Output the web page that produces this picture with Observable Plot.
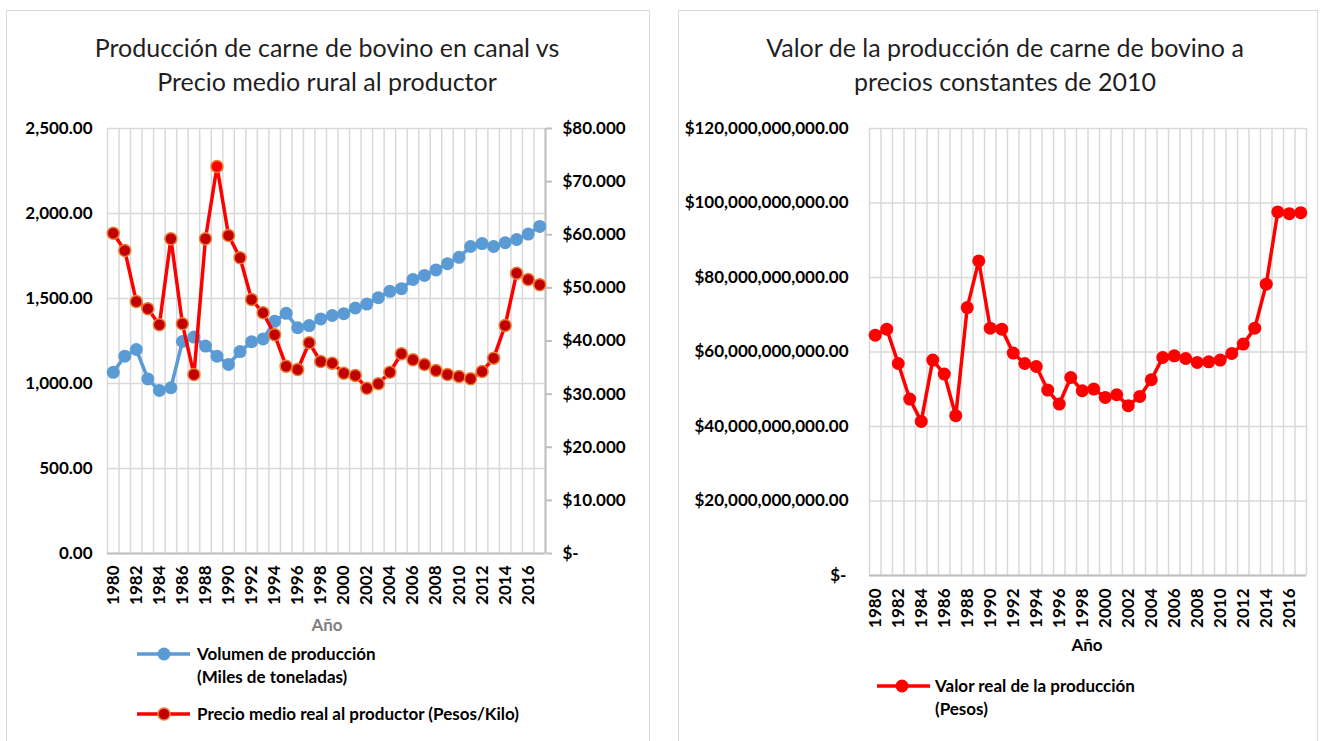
<!DOCTYPE html>
<html>
<head>
<meta charset="utf-8">
<script src="https://cdn.jsdelivr.net/npm/d3@7"></script>
<script src="https://cdn.jsdelivr.net/npm/@observablehq/plot@0.6"></script>
<style>
  html, body { margin: 0; padding: 0; background: #fff; }
  #root { position: relative; width: 1320px; height: 741px; overflow: hidden; background: #fff; font-family: Lato, "Open Sans", sans-serif; }
  .panel { position: absolute; border: 1.5px solid #d9d9d9; box-sizing: border-box; }
  .title { position: absolute; text-align: center; font-size: 25px; line-height: 34px; color: #1f1f1f; font-weight: normal; }
  .abs { position: absolute; }
  .lbl { position: absolute; font-weight: bold; font-size: 17px; line-height: 23px; color: #000; white-space: nowrap; }
  .chart { position: absolute; }
</style>
</head>
<body>
<div id="root">
  <div class="panel" style="left:6px; top:10px; width:644px; height:760px;"></div>
  <div class="panel" style="left:678px; top:10px; width:640px; height:760px;"></div>

  <div class="title" style="left:0px; top:30px; width:654px;">Producción de carne de bovino en canal vs<br>Precio medio rural al productor</div>
  <div class="title" style="left:680px; top:30px; width:650px;">Valor de la producción de carne de bovino a<br>precios constantes de 2010</div>

  <div id="left" class="chart" style="left:0px; top:100px;"></div>
  <div id="right" class="chart" style="left:680px; top:100px;"></div>

  <div class="lbl" style="left:297px; top:613px; width:60px; text-align:center; color:#7f7f7f;">Año</div>
  <div class="lbl" style="left:1057px; top:633px; width:60px; text-align:center;">Año</div>

  <!-- left legend -->
  <svg class="abs" style="left:135px; top:644px;" width="60" height="20">
    <line x1="2" y1="10" x2="55" y2="10" stroke="#5b9bd5" stroke-width="3.5"></line>
    <circle cx="29" cy="10" r="6.5" fill="#5b9bd5"></circle>
  </svg>
  <div class="lbl" style="left:197px; top:642px;">Volumen de producción<br>(Miles de toneladas)</div>
  <svg class="abs" style="left:135px; top:704px;" width="60" height="20">
    <line x1="2" y1="10" x2="55" y2="10" stroke="#ff0000" stroke-width="3.5"></line>
    <circle cx="29" cy="10" r="6" fill="#c00000" stroke="#ed7d31" stroke-width="1.5"></circle>
  </svg>
  <div class="lbl" style="left:197px; top:702px;">Precio medio real al productor (Pesos/Kilo)</div>

  <!-- right legend -->
  <svg class="abs" style="left:875px; top:676px;" width="60" height="20">
    <line x1="2" y1="10" x2="55" y2="10" stroke="#ff0000" stroke-width="3.5"></line>
    <circle cx="27" cy="10" r="6.5" fill="#ff0000"></circle>
  </svg>
  <div class="lbl" style="left:935px; top:674px;">Valor real de la producción<br>(Pesos)</div>
</div>

<script>
// ---------------- DATA ----------------
const years = [1980,1981,1982,1983,1984,1985,1986,1987,1988,1989,
               1990,1991,1992,1993,1994,1995,1996,1997,1998,1999,
               2000,2001,2002,2003,2004,2005,2006,2007,2008,2009,
               2010,2011,2012,2013,2014,2015,2016,2017];

// Volumen de producción (miles de toneladas)
const volumen = [1066,1161,1200,1027,959,975,1247,1273,1220,1161,
                 1112,1188,1245,1262,1366,1413,1328,1341,1380,1400,
                 1411,1444,1467,1505,1542,1558,1612,1636,1668,1705,
                 1742,1806,1823,1806,1828,1847,1879,1924];

// Precio medio real al productor (pesos/kilo)
const precio = [60.29,57.04,47.44,46.06,43.05,59.24,43.24,33.69,59.24,72.85,
                59.86,55.66,47.81,45.31,41.17,35.26,34.64,39.66,36.14,35.83,
                33.94,33.51,31.12,31.94,34.13,37.59,36.46,35.58,34.45,33.69,
                33.32,32.89,34.26,36.77,42.92,52.77,51.58,50.58];

// Valor real de la producción (pesos)
const valor = [64.53e9,66.14e9,56.92e9,47.37e9,41.37e9,57.83e9,54.07e9,42.90e9,71.93e9,84.45e9,
               66.40e9,66.14e9,59.70e9,56.92e9,56.10e9,49.78e9,46.03e9,53.16e9,49.60e9,50.05e9,
               47.80e9,48.52e9,45.58e9,48.07e9,52.55e9,58.53e9,58.98e9,58.26e9,57.19e9,57.37e9,
               57.83e9,59.60e9,62.12e9,66.40e9,78.20e9,97.60e9,97.13e9,97.40e9];

// Tick labels
const tickYears = [1980,1982,1984,1986,1988,1990,1992,1994,1996,1998,
                   2000,2002,2004,2006,2008,2010,2012,2014,2016];
const volTicks = [0,500,1000,1500,2000,2500];
const precioTicks = [0,10,20,30,40,50,60,70,80];
const valorTicks = [0,20e9,40e9,60e9,80e9,100e9,120e9];

// ---------------- BUILD ----------------
const rows = years.map((year, i) => ({year, volumen: volumen[i], precio: precio[i], valor: valor[i]}));
const xMin = years[0] - 0.5, xMax = years[years.length - 1] + 0.5;
const bounds = years.map(y => y - 0.5).concat([xMax]);
const k = volTicks[volTicks.length - 1] / precioTicks[precioTicks.length - 1];
const peakYear = years[precio.indexOf(d3.max(precio))];

const baseStyle = {
  fontFamily: "Lato, 'Open Sans', sans-serif",
  fontSize: "17px",
  fontWeight: "bold",
  color: "#000",
  background: "transparent",
  overflow: "visible"
};
const gridColor = "#d9d9d9";
const axisColor = "#bfbfbf";

const left = Plot.plot({
  width: 660, height: 540,
  marginLeft: 107, marginRight: 115, marginTop: 28, marginBottom: 87,
  style: baseStyle,
  x: {type: "linear", domain: [xMin, xMax]},
  y: {domain: [0, volTicks[volTicks.length - 1]]},
  marks: [
    Plot.gridX(bounds, {stroke: gridColor, strokeOpacity: 1, strokeWidth: 1.5}),
    Plot.gridY(volTicks, {stroke: gridColor, strokeOpacity: 1, strokeWidth: 1.5}),
    Plot.ruleY([0], {stroke: axisColor, strokeWidth: 2}),
    Plot.ruleX([xMax], {stroke: axisColor, strokeWidth: 2}),
    Plot.axisY(volTicks, {anchor: "left", tickSize: 0, tickPadding: 15, tickFormat: d3.format(",.2f"), label: null}),
    Plot.axisY(precioTicks, {anchor: "right", y: d => d * k, tickSize: 6, tickPadding: 11,
      stroke: axisColor, fill: "#000", strokeWidth: 2,
      tickFormat: d => d === 0 ? "$-" : "$" + d.toFixed(3), label: null}),
    Plot.axisX(tickYears, {anchor: "bottom", tickRotate: -90, tickSize: 0, tickPadding: 12,
      tickFormat: d => String(d), label: null}),
    Plot.line(rows, {x: "year", y: "volumen", stroke: "#5b9bd5", strokeWidth: 3.5}),
    Plot.dot(rows, {x: "year", y: "volumen", r: 6.5, fill: "#5b9bd5"}),
    Plot.line(rows, {x: "year", y: d => d.precio * k, stroke: "#ff0000", strokeWidth: 3.5}),
    Plot.dot(rows, {x: "year", y: d => d.precio * k, r: 6,
      fill: d => d.year === peakYear ? "#ff0000" : "#c00000",
      stroke: "#ed7d31", strokeWidth: 1.5})
  ]
});
document.getElementById("left").appendChild(left);

const right = Plot.plot({
  width: 640, height: 560,
  marginLeft: 189, marginRight: 14, marginTop: 28, marginBottom: 85,
  style: baseStyle,
  x: {type: "linear", domain: [xMin, xMax]},
  y: {domain: [0, valorTicks[valorTicks.length - 1]]},
  marks: [
    Plot.gridX(bounds, {stroke: gridColor, strokeOpacity: 1, strokeWidth: 1.5}),
    Plot.gridY(valorTicks, {stroke: gridColor, strokeOpacity: 1, strokeWidth: 1.5}),
    Plot.ruleY([0], {stroke: axisColor, strokeWidth: 2}),
    Plot.axisY(valorTicks, {anchor: "left", tickSize: 0, tickPadding: 21,
      tickFormat: d => d === 0 ? "$-\u2009" : "$" + d3.format(",.2f")(d), label: null}),
    Plot.axisX(tickYears, {anchor: "bottom", tickRotate: -90, tickSize: 0, tickPadding: 13,
      tickFormat: d => String(d), label: null}),
    Plot.line(rows, {x: "year", y: "valor", stroke: "#ff0000", strokeWidth: 3.5}),
    Plot.dot(rows, {x: "year", y: "valor", r: 6.5, fill: "#ff0000"})
  ]
});
document.getElementById("right").appendChild(right);
</script>
</body>
</html>
